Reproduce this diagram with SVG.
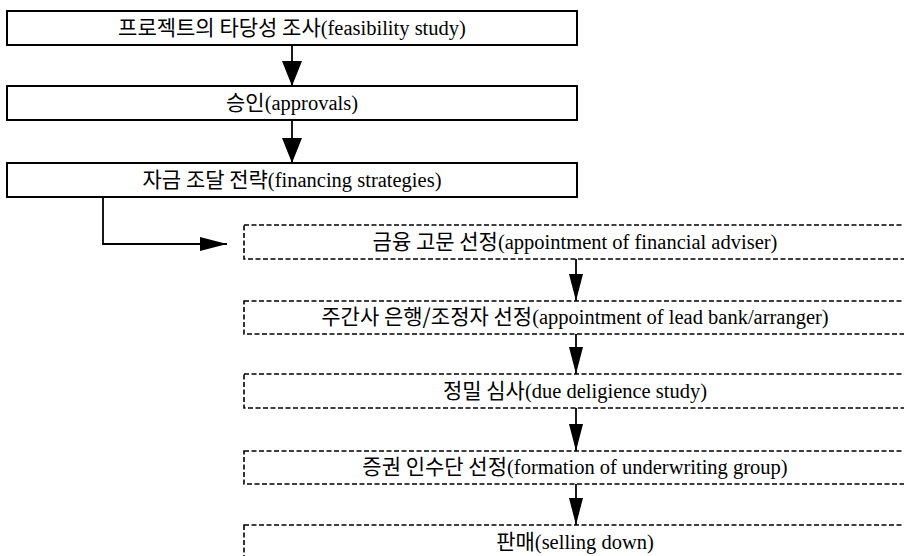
<svg xmlns="http://www.w3.org/2000/svg" width="904" height="556" viewBox="0 0 904 556">
<style>
.box{fill:#fff;stroke:#000;stroke-width:2}
.dbox{fill:#fff;stroke:#000;stroke-width:1.6;stroke-dasharray:5 2.5}
.lbl{font-size:20px;text-anchor:middle;fill:#000}
.ko{font-family:"Noto Sans CJK KR","Noto Sans",sans-serif;font-size:21px}
.en{font-family:"Liberation Serif","DejaVu Serif",serif;font-size:20.5px}
.conn{fill:none;stroke:#000;stroke-width:1.8}
</style>
<defs>
<marker id="ah" markerUnits="userSpaceOnUse" markerWidth="25" markerHeight="20" refX="25" refY="10" orient="auto" viewBox="0 0 25 20"><path d="M0,0 L25,10 L0,20 z" fill="#000"/></marker>
<marker id="ahn" markerUnits="userSpaceOnUse" markerWidth="27" markerHeight="14" refX="27" refY="7" orient="auto" viewBox="0 0 27 14"><path d="M0,0 L27,7 L0,14 z" fill="#000"/></marker>
</defs>
<rect width="904" height="556" fill="#fff"/>
<g id="connectors">
<line class="conn" x1="292" y1="45" x2="292" y2="86" marker-end="url(#ah)"/>
<line class="conn" x1="292" y1="120" x2="292" y2="163" marker-end="url(#ah)"/>
<path class="conn" d="M103,197 V244 H227" marker-end="url(#ahn)"/>
<line class="conn" x1="576" y1="259" x2="576" y2="301" marker-end="url(#ahn)"/>
<line class="conn" x1="576" y1="334" x2="576" y2="374" marker-end="url(#ahn)"/>
<line class="conn" x1="576" y1="408" x2="576" y2="451" marker-end="url(#ahn)"/>
<line class="conn" x1="576" y1="484" x2="576" y2="525" marker-end="url(#ahn)"/>
</g>
<g id="n1"><rect class="box" x="7" y="11" width="570" height="34"/><text class="lbl" x="292" y="35"><tspan class="ko">프로젝트의 타당성 조사</tspan><tspan class="en">(feasibility study)</tspan></text></g>
<g id="n2"><rect class="box" x="7" y="86" width="570" height="34"/><text class="lbl" x="292" y="110"><tspan class="ko">승인</tspan><tspan class="en">(approvals)</tspan></text></g>
<g id="n3"><rect class="box" x="7" y="163" width="570" height="34"/><text class="lbl" x="292" y="187"><tspan class="ko">자금 조달 전략</tspan><tspan class="en">(financing strategies)</tspan></text></g>
<g id="n4"><rect class="dbox" x="244" y="225" width="700" height="34"/><text class="lbl" x="575" y="249"><tspan class="ko">금융 고문 선정</tspan><tspan class="en">(appointment of financial adviser)</tspan></text></g>
<g id="n5"><rect class="dbox" x="244" y="301" width="700" height="33"/><text class="lbl" x="575" y="324"><tspan class="ko">주간사 은행/조정자 선정</tspan><tspan class="en">(appointment of lead bank/arranger)</tspan></text></g>
<g id="n6"><rect class="dbox" x="244" y="374" width="700" height="34"/><text class="lbl" x="575" y="398"><tspan class="ko">정밀 심사</tspan><tspan class="en">(due deligience study)</tspan></text></g>
<g id="n7"><rect class="dbox" x="244" y="451" width="700" height="33"/><text class="lbl" x="575" y="474"><tspan class="ko">증권 인수단 선정</tspan><tspan class="en">(formation of underwriting group)</tspan></text></g>
<g id="n8"><rect class="dbox" x="244" y="525" width="700" height="60"/><text class="lbl" x="575" y="549"><tspan class="ko">판매</tspan><tspan class="en">(selling down)</tspan></text></g>
</svg>
